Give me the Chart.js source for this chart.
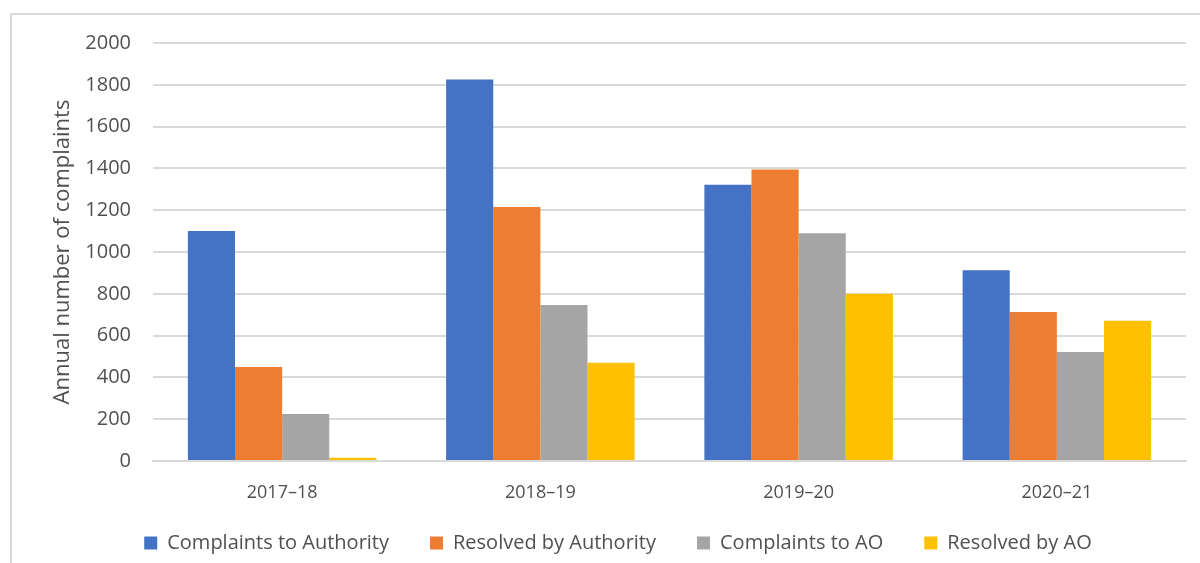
<!DOCTYPE html>
<html>
<head>
<meta charset="utf-8">
<script src="https://cdn.jsdelivr.net/npm/chart.js@4"></script>
<style>
  html, body { margin: 0; padding: 0; background: #fff; }
  #wrap { position: relative; width: 1200px; height: 563px; }
  #frame { position: absolute; left: 10px; top: 13px; right: 0; bottom: 0;
           border-top: 2px solid #d9d9d9; border-left: 2px solid #d9d9d9; }
  canvas { position: absolute; left: 0; top: 0; }
</style>
</head>
<body>
<div id="wrap">
  <div id="frame"></div>
  <canvas id="chart" width="1200" height="563"></canvas>
</div>
<script>
const years = ["2017–18", "2018–19", "2019–20", "2020–21"];
const complaintsToAuthority = [1100, 1825, 1322, 913];
const resolvedByAuthority = [450, 1215, 1395, 713];
const complaintsToAO = [225, 747, 1090, 521];
const resolvedByAO = [15, 470, 800, 671];
const yTicks = [0, 200, 400, 600, 800, 1000, 1200, 1400, 1600, 1800, 2000];

const font = "'Open Sans', 'Liberation Sans', sans-serif";
const textColor = "#505050";

var chrt = document.getElementById("chart").getContext("2d");
var chartId = new Chart(chrt, {
  type: "bar",
  data: {
    labels: years,
    datasets: [
      { label: "Complaints to Authority", data: complaintsToAuthority, backgroundColor: "#4472C4" },
      { label: "Resolved by Authority", data: resolvedByAuthority, backgroundColor: "#ED7D31" },
      { label: "Complaints to AO", data: complaintsToAO, backgroundColor: "#A5A5A5" },
      { label: "Resolved by AO", data: resolvedByAO, backgroundColor: "#FFC000" },
    ],
  },
  options: {
    responsive: false,
    animation: false,
    categoryPercentage: 0.73,
    barPercentage: 1,
    layout: { padding: { left: 50, top: 43, right: 14, bottom: 0 } },
    plugins: {
      tooltip: { enabled: false },
      legend: {
        position: "bottom",
        labels: {
          font: { family: font, size: 20 },
          color: textColor,
          boxWidth: 13,
          boxHeight: 13,
          padding: 41,
        },
      },
    },
    scales: {
      x: {
        grid: { display: false, drawTicks: false },
        border: { color: "#d9d9d9", width: 2, z: -1 },
        ticks: {
          font: { family: font, size: 18 },
          color: textColor,
          padding: 21,
          autoSkip: false,
          maxRotation: 0,
        },
        afterFit: (scale) => {
          scale.height = 31;
          // labels hang below the short axis box, so don't clip them
          scale._computeLabelArea = () => undefined;
        },
      },
      y: {
        min: 0,
        max: 2000,
        afterBuildTicks: (scale) => { scale.ticks = yTicks.map((v) => ({ value: v })); },
        grid: { color: "#d9d9d9", lineWidth: 2, drawTicks: false },
        border: { display: false },
        ticks: {
          font: { family: font, size: 20 },
          color: textColor,
          padding: 22,
          callback: (v) => String(v),
        },
        title: {
          display: true,
          text: "Annual number of complaints",
          font: { family: font, size: 22 },
          color: textColor,
          padding: { top: 0, bottom: 0 },
        },
        afterFit: (scale) => { scale.width = 103; },
      },
    },
  },
});
</script>
</body>
</html>
